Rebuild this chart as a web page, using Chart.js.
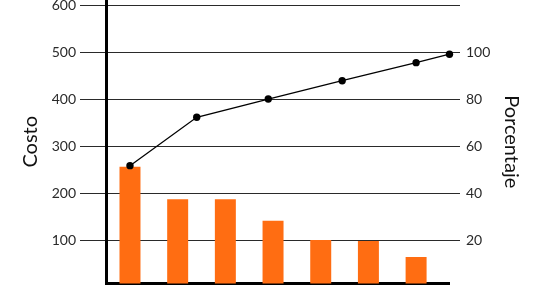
<!DOCTYPE html>
<html><head><meta charset="utf-8">
<script src="https://cdn.jsdelivr.net/npm/chart.js@4/dist/chart.umd.min.js"></script>
<style>html,body{margin:0;padding:0;background:#fff;overflow:hidden}</style>
</head><body>
<canvas id="c" width="548" height="300"></canvas>
<script>
// Categories (bar positions) and cost of each
const categories = ['1', '2', '3', '4', '5', '6', '7'];
const costValues = [256, 187, 187, 141, 100, 98, 64];
// Cumulative percentage line (x in category units, y in %)
const cumulativePosition = [0, 1.4, 2.9, 4.45, 6.0, 6.7];
const cumulativePercent = [51.7, 72.3, 80.1, 87.9, 95.6, 99.2];
// Tick labels
const costTicks = [100, 200, 300, 400, 500, 600];
const percentTicks = [20, 40, 60, 80, 100, 120];
const percentTickLabels = ['20', '40', '60', '80', '100', ''];
const yTitle = 'Costo';
const y1Title = 'Porcentaje';
const xTitle = 'Categorías';

const FONT = 'Lato';
const gridColor = '#2a2a2a';

new Chart(document.getElementById('c'), {
  type: 'bar',
  data: {
    datasets: [
      {
        type: 'line',
        label: 'Porcentaje',
        data: cumulativePosition.map((x, i) => ({ x: x, y: cumulativePercent[i] })),
        yAxisID: 'y1',
        xAxisID: 'x',
        borderColor: '#000',
        borderWidth: 1.3,
        pointRadius: 3.7,
        pointBackgroundColor: '#000',
        pointBorderColor: '#000',
        pointBorderWidth: 0,
        tension: 0,
        clip: false,
        order: 0
      },
      {
        type: 'bar',
        label: 'Costo',
        data: categories.map((c, i) => ({ x: i, y: costValues[i] })),
        yAxisID: 'y',
        xAxisID: 'x',
        backgroundColor: '#FF6D12',
        borderWidth: 0,
        barPercentage: 0.44,
        categoryPercentage: 1,
        order: 1
      }
    ]
  },
  options: {
    responsive: false,
    animation: false,
    devicePixelRatio: 1,
    layout: { padding: 0, autoPadding: false },
    plugins: { legend: { display: false }, tooltip: { enabled: false } },
    scales: {
      x: {
        type: 'linear',
        position: 'bottom',
        offset: false,
        min: -0.503,
        max: 6.69,
        z: 1,
        afterFit: s => { s.height = 16.5; s.paddingLeft = 0; s.paddingRight = 0; },
        grid: { display: false, offset: false },
        ticks: { display: false },
        border: { display: true, color: '#000', width: 3 },
        title: { display: true, text: xTitle, color: '#111', font: { family: FONT, size: 20 }, padding: { top: 0, bottom: -21 } }
      },
      y: {
        position: 'left',
        min: 7.4,
        max: 611.4,
        afterBuildTicks: s => { s.ticks = costTicks.map(v => ({ value: v })); },
        afterFit: s => { s.width = 106; s.paddingTop = 0; s.paddingBottom = 0; },
        grid: { color: gridColor, lineWidth: 1, tickLength: 26, drawTicks: true },
        border: { display: true, color: '#000', width: 3 },
        ticks: { color: '#2a2a2a', font: { family: FONT, size: 14 }, padding: 4 },
        title: { display: true, text: yTitle, color: '#111', font: { family: FONT, size: 20 }, padding: { top: 19, bottom: 0 } }
      },
      y1: {
        position: 'right',
        min: 1.48,
        max: 122.3,
        afterBuildTicks: s => { s.ticks = percentTicks.map(v => ({ value: v })); },
        afterFit: s => { s.width = 99; s.paddingTop = 0; s.paddingBottom = 0; },
        grid: { drawOnChartArea: false, color: gridColor, lineWidth: 1, tickLength: 11 },
        border: { display: false },
        ticks: { color: '#2a2a2a', font: { family: FONT, size: 14 }, padding: 6,
                 callback: (v, i) => percentTickLabels[i] },
        title: { display: true, text: y1Title, color: '#111', font: { family: FONT, size: 20 }, padding: { top: 25, bottom: 0 } }
      }
    }
  }
});
</script>
</body></html>
